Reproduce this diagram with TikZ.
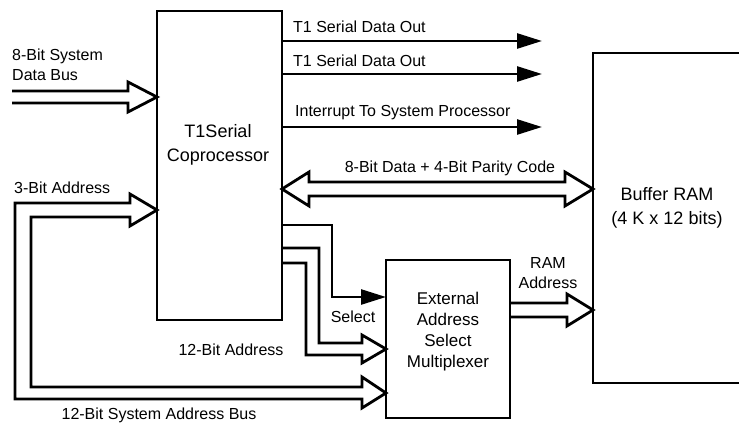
\documentclass[tikz,border=0pt]{standalone}
\usepackage{fontspec}
\setmainfont{Liberation Sans}
\usetikzlibrary{arrows.meta}
\newcommand\lblfont{\fontsize{16}{20}\selectfont}
\newcommand\blkfont{\fontsize{18}{23.5}\selectfont}
\newcommand\muxfont{\fontsize{17}{21}\selectfont}
\begin{document}
\begin{tikzpicture}[x=1pt,y=-1pt,
  box/.style={draw, line width=2.8pt, inner sep=0pt, outer sep=0pt},
  txt/.style={inner sep=0pt, font=\lblfont, align=center},
  txtl/.style={inner sep=0pt, font=\lblfont, align=left, anchor=west},
  bus/.style={line width=2.8pt, line join=miter},
  sig/.style={line width=2.6pt, -{Triangle[length=25pt,width=15pt]}}]
\useasboundingbox (0,0) rectangle (739,426);
\clip (0,0) rectangle (739,426);

% blocks
\node[box, minimum width=125pt, minimum height=309pt] (copro) at (219.5,165.5) {};
\node[box, minimum width=152pt, minimum height=330pt] (ram) at (669,218) {};
\node[box, minimum width=124pt, minimum height=158pt] (mux) at (448,339) {};

\node[txt, font=\blkfont] (coprotext) at (218,145) {T1Serial\\Coprocessor};
\node[txt, font=\blkfont] (ramtext) at (667,208) {Buffer RAM\\(4 K x 12 bits)};
\node[txt, font=\muxfont] (muxtext) at (448,332) {External\\Address\\Select\\Multiplexer};

% labels
\node[txtl] (ldata) at (12,65) {8-Bit System\\Data Bus};
\node[txtl] (lout1) at (293,27) {T1 Serial Data Out};
\node[txtl] (lout2) at (293,61) {T1 Serial Data Out};
\node[txtl] (lint) at (295,113) {Interrupt To System Processor};
\node[txt] (lpar) at (450,168) {8-Bit Data + 4-Bit Parity Code};
\node[txtl] (laddr3) at (14,188) {3-Bit Address};
\node[txt] (lram) at (548,273) {RAM\\Address};
\node[txt] (lsel) at (353,317) {Select};
\node[txt] (laddr12) at (231,350) {12-Bit Address};
\node[txt] (lsys) at (159,415) {12-Bit System Address Bus};

% single-line outputs
\coordinate (o1) at (542,41);
\coordinate (o2) at (542,74);
\coordinate (o3) at (542,127);
\draw[sig] (copro.east |- o1) -- (o1);
\draw[sig] (copro.east |- o2) -- (o2);
\draw[sig] (copro.east |- o3) -- (o3);

% select line
\draw[sig] (copro.east |- 0,225) -- (332,225) -- (332,297) -- (mux.west |- 0,297);

% 8-bit system data bus (hollow arrow)
\draw[bus] (12,91) -- (128,91) -- (128,82) -- (copro.west |- 0,97)
  -- (128,112) -- (128,103) -- (12,103);

% bidirectional data + parity bus
\draw[bus] (copro.east |- 0,189) -- (309,172) -- (309,182) -- (565,182) -- (565,172)
  -- (ram.west |- 0,189) -- (565,206) -- (565,196) -- (309,196) -- (309,206) -- cycle;

% 3-bit address / 12-bit system address bus
\draw[bus] (130,203) -- (15,203) -- (15,399) -- (362,399) -- (362,408)
  -- (mux.west |- 0,393) -- (362,377) -- (362,387) -- (31,387) -- (31,217)
  -- (130,217) -- (130,226) -- (copro.west |- 0,210) -- (130,194) -- cycle;

% 12-bit address
\draw[bus] (copro.east |- 0,248) -- (319,248) -- (319,343) -- (362,343) -- (362,335)
  -- (mux.west |- 0,349) -- (362,363) -- (362,355) -- (306,355) -- (306,263)
  -- (copro.east |- 0,263);

% RAM address
\draw[bus] (mux.east |- 0,303) -- (567,303) -- (567,294) -- (ram.west |- 0,310)
  -- (567,326) -- (567,317) -- (mux.east |- 0,317);
\end{tikzpicture}
\end{document}
